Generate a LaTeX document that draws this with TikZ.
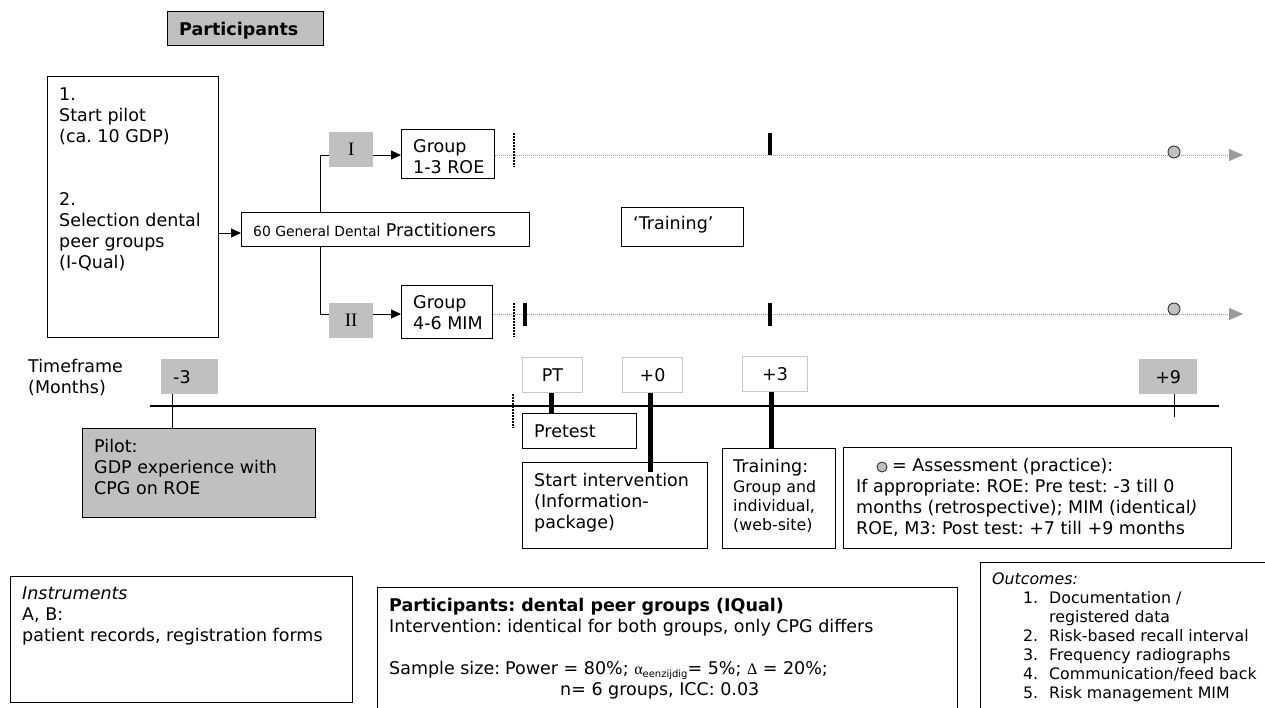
\documentclass[tikz,border=0pt]{standalone}
\usepackage{fontspec}
\setmainfont{DejaVu Sans}
\newfontfamily\serifI{Liberation Serif}
\usetikzlibrary{arrows.meta}
\definecolor{boxgray}{HTML}{C0C0C0}
\definecolor{lightframe}{HTML}{C8C8C8}
\definecolor{dotgray}{HTML}{9A9A9A}
\newcommand\mainsz{\fontsize{17.5}{21}\selectfont\frenchspacing}
\newcommand\smallsz{\fontsize{15.8}{19}\selectfont\frenchspacing}
\newcommand\gdpsz{\fontsize{13.9}{17}\selectfont}
\begin{document}
\begin{tikzpicture}[x=1pt,y=-1pt,
  box/.style={draw=black, line width=1pt, fill=white, inner sep=0, anchor=north west},
  graybox/.style={fill=boxgray, inner sep=0, anchor=north west},
  framedgray/.style={graybox, draw=black, line width=1pt},
  tickbox/.style={draw=lightframe, line width=1pt, fill=white, inner sep=0, anchor=north west, font=\mainsz},
  txt/.style={inner sep=0, anchor=base west, align=left, font=\mainsz},
  arr/.style={line width=1pt, -{Triangle[length=10pt,width=9pt]}},
  thickbar/.style={line width=4.5pt},
  dotbar/.style={line width=2pt, dash pattern=on 1.5pt off 1.5pt},
  timeline/.style={dotgray, line width=0.8pt, dash pattern=on 1pt off 1pt, -{Triangle[length=14pt,width=12pt]}},
  assess/.style={circle, fill=boxgray, draw=black!80, line width=0.9pt, inner sep=0, minimum size=12pt},
  thinline/.style={line width=1pt}
]
% multi-line text nodes: the base anchor is the baseline of the LAST line
\path[use as bounding box, fill=white] (0,0) rectangle (1265,707);
\clip (0,0) rectangle (1265,707);

% ---------- top: participants ----------
\node[framedgray, minimum width=156pt, minimum height=34pt] (parttop) at (167,11) {};
\node[txt, font=\mainsz\bfseries] (parttoptxt) at (179,35) {Participants};

\node[box, minimum width=171pt, minimum height=261pt] (leftbox) at (47,76) {};
\node[txt] (lefttxt) at (59,268) {1.\\Start pilot\\(ca. 10 GDP)\\[42pt]2.\\Selection dental\\peer groups\\(I-Qual)};

\node[box, minimum width=288pt, minimum height=34pt] (gdp) at (241,212) {};
\node[txt] (gdptxt) at (253,236) {{\gdpsz 60 General Dental} Practitioners};

\draw[arr] (leftbox.east |- 0,233) -- (gdp.west |- 0,233);

\node[graybox, minimum width=44pt, minimum height=35pt, font=\serifI\fontsize{19}{19}\selectfont] (I) at (329,132) {I};
\node[graybox, minimum width=44pt, minimum height=35pt, font=\serifI\fontsize{19}{19}\selectfont] (II) at (329,303) {II};

\coordinate (br) at (320,0);
\coordinate (tl1) at (0,155);
\coordinate (tl2) at (0,314);
\draw[thinline] (I.west |- tl1) -| (br |- gdp.north);
\draw[thinline] (II.west |- tl2) -| (br |- gdp.south);

\node[box, minimum width=93pt, minimum height=49pt] (g1) at (401,129) {};
\node[txt] (g1txt) at (413,173) {Group\\1-3 ROE};
\node[box, minimum width=91pt, minimum height=53pt] (g2) at (401,285) {};
\node[txt] (g2txt) at (413,329) {Group\\4-6 MIM};

\draw[arr] (I.east |- tl1) -- (g1.west |- tl1);
\draw[arr] (II.east |- tl2) -- (g2.west |- tl2);

\node[box, minimum width=122pt, minimum height=39pt] (trq) at (621,207) {};
\node[txt] (trqtxt) at (633,229) {‘Training’};

% timelines of the two groups
\coordinate (e1) at (1243,155);
\coordinate (e2) at (1243,314);
\draw[timeline] (g1.east |- tl1) -- (e1);
\draw[timeline] (g2.east |- tl2) -- (e2);
\draw[dotbar] (514,133) -- (514,167);
\draw[dotbar] (514,303) -- (514,337);
\draw[thickbar] (770,133) -- (770,155);
\draw[thickbar] (770,303) -- (770,326);
\draw[thickbar] (525,303) -- (525,326);
\node[assess] (as1) at (1174,152) {};
\node[assess] (as2) at (1174,309) {};

% ---------- time frame ----------
\node[txt] (tf) at (28,393) {Timeframe\\(Months)};
\node[graybox, minimum width=57pt, minimum height=35pt] (m3) at (161,359) {};
\node[txt] (m3txt) at (173,383) {-3};
\coordinate (axL) at (150,406);
\coordinate (axR) at (1219,406);
\draw[line width=1.2pt] (axL) -- (axR);

\node[framedgray, minimum width=233pt, minimum height=89pt] (pilot) at (82,428) {};
\node[txt] (pilottxt) at (94,494) {Pilot:\\GDP experience with\\CPG on ROE};
\draw[thinline] ([xshift=11pt]m3.south west) -- ([xshift=11pt]m3.south west |- pilot.north);

\draw[dotbar] (513,394) -- (513,428);

\node[tickbox, minimum width=60pt, minimum height=35pt] (pt) at (522,357) {PT};
\node[tickbox, minimum width=60pt, minimum height=35pt] (p0) at (622,357) {+0};
\node[tickbox, minimum width=65pt, minimum height=35pt] (p3) at (742,356) {+3};
\node[graybox, minimum width=58pt, minimum height=35pt, font=\mainsz] (p9) at (1139,359) {+9};
\draw[thinline] ([xshift=35pt]p9.south west) -- ++(0,23);

\node[box, minimum width=114pt, minimum height=35pt] (pretest) at (522,413) {};
\node[txt] (pretesttxt) at (534,437) {Pretest};
\node[box, minimum width=185pt, minimum height=86pt] (startint) at (522,462) {};
\node[txt] (starttxt) at (534,528) {Start intervention\\(Information-\\package)};
\node[box, minimum width=113pt, minimum height=100pt] (training) at (722,448) {};
\node[txt] (traintxt) at (733,472) {Training:};
\node[txt, font=\smallsz] (traintxt2) at (733,530) {Group and\\individual,\\(web-site)};

\draw[thickbar] ([xshift=-1pt]pt.south) -- ([xshift=-1pt]pt.south |- pretest.north);
\draw[thickbar] ([xshift=-2pt]p0.south) -- ++(0,79);
\draw[thickbar] ([xshift=-3.5pt]p3.south) -- ([xshift=-3.5pt]p3.south |- training.north);

\node[box, minimum width=388pt, minimum height=101pt] (assessbox) at (843,447) {};
\node[assess, minimum size=10pt] (legcirc) at (882,467) {};
\node[txt] (assesstxt) at (856,534) {\hspace*{36pt}= Assessment (practice):\\If appropriate: ROE: Pre test: -3 till 0\\months (retrospective); MIM (identical\textit{)}\\ROE, M3: Post test: +7 till +9 months};

% ---------- bottom ----------
\node[box, minimum width=342pt, minimum height=126pt] (instr) at (10,576) {};
\node[txt] (instrtxt) at (22,641) {\textit{Instruments}\\A, B:\\patient records, registration forms};

\node[box, minimum width=580pt, minimum height=200pt] (partbot) at (377,587) {};
\node[txt] (partbottxt) at (389,695) {\textbf{Participants: dental peer groups (IQual)}\\Intervention: identical for both groups, only CPG differs\\[21pt]Sample size:\kern5pt Power = 80\%; {\serifI\fontsize{16}{16}\selectfont α}\raisebox{-3pt}{\fontsize{10}{10}\selectfont eenzijdig}= 5\%; {\serifI\fontsize{16}{16}\selectfont Δ} = 20\%;\\\hspace*{171pt}n= 6 groups, ICC: 0.03};

\node[box, minimum width=300pt, minimum height=200pt] (outc) at (980,562) {};
\node[txt, font=\smallsz] (outctxt) at (992,698) {\textit{Outcomes:}\\
\hspace*{30pt}\makebox[16pt][r]{1.}\hspace*{11pt}Documentation /\\
\hspace*{57pt}registered data\\
\hspace*{30pt}\makebox[16pt][r]{2.}\hspace*{11pt}Risk-based recall interval\\
\hspace*{30pt}\makebox[16pt][r]{3.}\hspace*{11pt}Frequency radiographs\\
\hspace*{30pt}\makebox[16pt][r]{4.}\hspace*{11pt}Communication/feed back\\
\hspace*{30pt}\makebox[16pt][r]{5.}\hspace*{11pt}Risk management MIM};
\end{tikzpicture}
\end{document}
